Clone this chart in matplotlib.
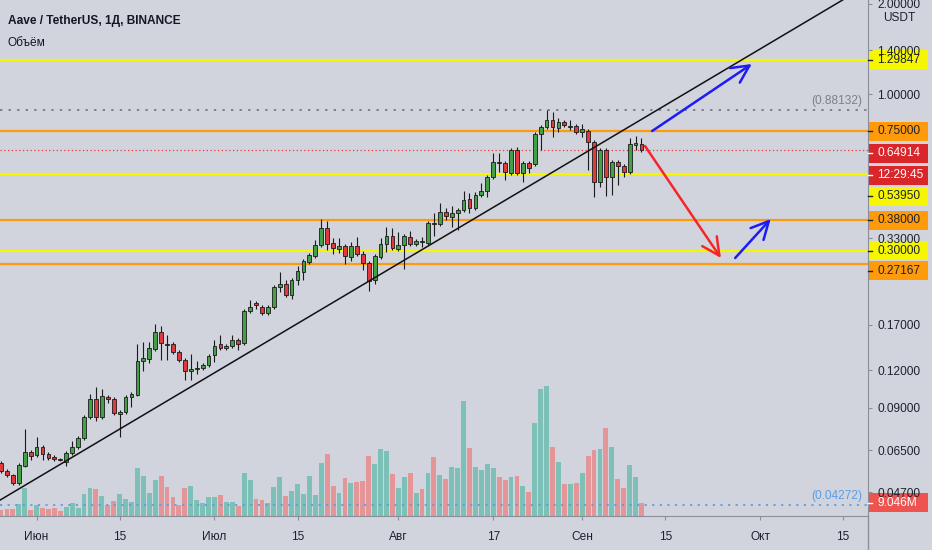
import numpy as np
import matplotlib.pyplot as plt
from matplotlib.patches import Rectangle
from matplotlib.lines import Line2D
from matplotlib.ticker import FixedLocator, NullLocator, FuncFormatter

# ---- data (AAVE/USDT daily, 26 May .. 11 Sep) ----
days = np.arange(-6, 103)  # day number counted from 1 June, one candle per day

open_ = [0.05889, 0.05538, 0.05371, 0.05050, 0.05755, 0.06407, 0.06261, 0.06658, 0.06309, 0.06166,
         0.06072, 0.05934, 0.06358, 0.06658, 0.07134, 0.08381, 0.09624, 0.08381, 0.09773, 0.09624,
         0.08577, 0.08709, 0.09773, 0.09924, 0.1288, 0.1308, 0.1413, 0.1610, 0.1468, 0.1468,
         0.1381, 0.1298, 0.1193, 0.1212, 0.1221, 0.1249, 0.1349, 0.1468, 0.1423, 0.1446,
         0.1514, 0.1479, 0.1891, 0.2011, 0.1950, 0.1862, 0.1950, 0.2273, 0.2326, 0.2138,
         0.2399, 0.2551, 0.2754, 0.2884, 0.3139, 0.3576, 0.3187, 0.3044, 0.3114, 0.2862,
         0.3114, 0.2929, 0.2733, 0.2399, 0.2862, 0.3163, 0.3363, 0.3044, 0.3139, 0.3337,
         0.3163, 0.3236, 0.3187, 0.3715, 0.3687, 0.4043, 0.3891, 0.4012, 0.4106, 0.4467,
         0.4169, 0.4606, 0.4750, 0.5289, 0.5934, 0.5889, 0.5454, 0.6506, 0.5454, 0.5889,
         0.5844, 0.7357, 0.7761, 0.8189, 0.7701, 0.8064, 0.7790, 0.7820, 0.7470, 0.7528,
         0.6918, 0.5089, 0.6506, 0.5289, 0.5934, 0.5754, 0.5496, 0.6761, 0.6813]
high = [0.05980, 0.05624, 0.05412, 0.05889, 0.07643, 0.06506, 0.07189, 0.06761, 0.06407, 0.06261,
        0.06118, 0.06456, 0.06971, 0.07245, 0.08511, 0.1000, 0.1055, 0.1039, 0.09924, 0.09773,
        0.08844, 0.09924, 0.1016, 0.1468, 0.1491, 0.1491, 0.1711, 0.1685, 0.1573, 0.1491,
        0.1402, 0.1318, 0.1359, 0.1288, 0.1269, 0.1359, 0.1514, 0.1573, 0.1468, 0.1573,
        0.1537, 0.1920, 0.2058, 0.2042, 0.1980, 0.1980, 0.2309, 0.2551, 0.2399, 0.2436,
        0.2671, 0.2818, 0.2951, 0.3261, 0.3832, 0.3773, 0.3312, 0.3312, 0.3163, 0.3212,
        0.3337, 0.2997, 0.2776, 0.2929, 0.3312, 0.3603, 0.3576, 0.3468, 0.3415, 0.3494,
        0.3286, 0.3337, 0.3773, 0.4012, 0.4332, 0.4169, 0.4234, 0.4169, 0.4750, 0.4677,
        0.4713, 0.5050, 0.5371, 0.6358, 0.6358, 0.5980, 0.6607, 0.6658, 0.5980, 0.5980,
        0.7470, 0.7881, 0.88132, 0.8708, 0.8316, 0.8189, 0.8189, 0.7941, 0.7941, 0.7642,
        0.7025, 0.6607, 0.6607, 0.6026, 0.6026, 0.5844, 0.7134, 0.7244, 0.7134]
low = [0.05454, 0.05289, 0.04974, 0.04974, 0.05711, 0.06026, 0.06166, 0.06026, 0.06026, 0.05980,
       0.05980, 0.05755, 0.06261, 0.06556, 0.07025, 0.08254, 0.08127, 0.08254, 0.09333, 0.08511,
       0.07189, 0.08577, 0.09050, 0.09848, 0.1193, 0.1269, 0.1391, 0.1298, 0.1298, 0.1359,
       0.1279, 0.1113, 0.1113, 0.1166, 0.1202, 0.1230, 0.1279, 0.1402, 0.1402, 0.1423,
       0.1402, 0.1457, 0.1862, 0.1920, 0.1834, 0.1834, 0.1920, 0.2188, 0.2105, 0.2073,
       0.2309, 0.2399, 0.2712, 0.2840, 0.3091, 0.3020, 0.2929, 0.2951, 0.2712, 0.2776,
       0.2884, 0.2590, 0.2205, 0.2326, 0.2818, 0.2974, 0.3020, 0.2997, 0.2610, 0.3114,
       0.3114, 0.3091, 0.3139, 0.3363, 0.3631, 0.3802, 0.3603, 0.3521, 0.4043, 0.4012,
       0.4106, 0.4536, 0.4536, 0.5208, 0.5496, 0.5168, 0.5371, 0.5371, 0.5089, 0.5454,
       0.5754, 0.6506, 0.7642, 0.7189, 0.7470, 0.7761, 0.7586, 0.7357, 0.7189, 0.5581,
       0.4536, 0.4898, 0.4571, 0.4606, 0.4974, 0.5289, 0.5412, 0.6506, 0.6407]
close = [0.05538, 0.05371, 0.05050, 0.05799, 0.06407, 0.06213, 0.06658, 0.06309, 0.06118, 0.06072,
         0.06026, 0.06358, 0.06658, 0.07134, 0.08381, 0.09624, 0.08381, 0.09848, 0.09624, 0.08643,
         0.08709, 0.09773, 0.1000, 0.1288, 0.1318, 0.1423, 0.1610, 0.1479, 0.1457, 0.1381,
         0.1298, 0.1193, 0.1212, 0.1221, 0.1249, 0.1339, 0.1446, 0.1423, 0.1446, 0.1514,
         0.1468, 0.1891, 0.1950, 0.1980, 0.1862, 0.1950, 0.2273, 0.2326, 0.2138, 0.2399,
         0.2571, 0.2776, 0.2906, 0.3139, 0.3576, 0.3163, 0.3067, 0.3114, 0.2884, 0.3114,
         0.2929, 0.2733, 0.2380, 0.2884, 0.3163, 0.3363, 0.3067, 0.3139, 0.3363, 0.3163,
         0.3236, 0.3212, 0.3715, 0.3687, 0.4043, 0.3921, 0.4012, 0.4106, 0.4433, 0.4169,
         0.4606, 0.4750, 0.5289, 0.5934, 0.5889, 0.5496, 0.6506, 0.5454, 0.5889, 0.5667,
         0.7357, 0.7761, 0.8189, 0.7761, 0.8064, 0.7881, 0.7820, 0.7470, 0.7642, 0.6918,
         0.5089, 0.6506, 0.5289, 0.5934, 0.5754, 0.5496, 0.6813, 0.6865, 0.64914]
volume_m = [3.9, 4.4, 4.4, 8.1, 19.2, 3.9, 7.4, 5.1, 4.4, 5.1,
            3.4, 5.8, 8.6, 5.1, 15.2, 19.7, 18.5, 14.0, 7.4, 10.3,
            15.2, 11.7, 9.8, 33.4, 27.9, 15.7, 25.1, 27.9, 20.4, 12.9,
            7.4, 19.7, 20.9, 11.0, 8.6, 12.9, 13.3, 14.5, 9.3, 9.3,
            6.7, 30.3, 25.1, 11.5, 11.0, 8.6, 19.9, 27.0, 13.8, 17.5,
            22.3, 15.2, 27.9, 14.5, 37.3, 43.5, 20.9, 15.7, 26.3, 23.2,
            23.9, 24.6, 42.1, 36.4, 46.8, 45.6, 29.3, 19.2, 27.0, 30.3,
            15.7, 18.5, 30.3, 41.1, 28.4, 26.0, 34.1, 33.6, 80.7, 47.5,
            34.1, 32.0, 36.4, 33.6, 27.0, 25.1, 27.0, 27.9, 20.9, 16.8,
            65.2, 89.4, 91.5, 48.2, 38.0, 22.3, 22.3, 23.2, 30.3, 42.1,
            46.3, 47.0, 62.1, 48.2, 25.6, 19.7, 35.7, 27.4, 9.046]

tick_days = [0, 14, 30, 44, 61, 77, 92, 106, 122, 136]
tick_labels = ["Июн", "15", "Июл", "15", "Авг", "17", "Сен", "15", "Окт", "15"]
price_ticks = [2.0, 1.4, 1.0, 0.33, 0.17, 0.12, 0.09, 0.065, 0.047]

yellow_levels = [1.29847, 0.5395, 0.30]
orange_levels = [0.75, 0.38, 0.27167]
last_price = 0.64914
range_high = 0.88132
range_low = 0.04272
last_volume = 9.046

# trend line through two points (day, price)
trend_pts = [(-6, 0.0445), (102, 0.823)]
# drawn arrows: (start day, start price, end day, end price, colour)
arrows = [(103.8, 0.7527, 120.6, 1.259, "#1c1cf5"),
          (102.6, 0.6709, 115.4, 0.2840, "#f5262b"),
          (117.8, 0.2840, 123.8, 0.3831, "#1c1cf5")]

# ---- style ----
BG = "#d1d4dc"
TXT = "#1e222d"
AXC = "#8c8f98"
UP, DOWN = "#43a047", "#e0393e"
VUP, VDOWN = "#7cc0b8", "#e39597"
YEL, ORA = "#f6f600", "#ff9a0a"
FS = 8.6
plt.rcParams["font.family"] = ["Liberation Sans", "DejaVu Sans"]

W, H = 932, 550
fig = plt.figure(figsize=(W / 100, H / 100), dpi=100, facecolor=BG)
ax = fig.add_axes([0, 34.5 / H, 868 / W, 515.5 / H])
axv = ax.twinx()
ax.set_zorder(axv.get_zorder() + 1)
ax.patch.set_visible(False)
axv.patch.set_visible(False)

ax.set_yscale("log")
ax.set_xlim(-6.17, 140.2)
ax.set_ylim(0.03936, 2.0576)
axv.set_ylim(0, 364.3)
axv.set_yticks([])
for s in axv.spines.values():
    s.set_visible(False)

o = np.array(open_)
c = np.array(close)
up = c >= o

# volume
axv.bar(days, volume_m, width=0.82, color=np.where(up, VUP, VDOWN), linewidth=0)

# levels
for lv in yellow_levels:
    ax.axhline(lv, color=YEL, lw=1.6, zorder=2)
for lv in orange_levels:
    ax.axhline(lv, color=ORA, lw=1.6, zorder=2)
ax.axhline(range_high, color="#7d8089", lw=1.4, ls=(0, (1.2, 3.2)), zorder=2)
ax.axhline(last_price, color="#e53935", lw=0.9, ls=(0, (1, 2)), zorder=2)
ax.axhline(range_low, color="#5a9ee8", lw=1.3, ls=(0, (1.2, 3)), zorder=2)

# candles
ax.vlines(days, low, high, color="#1b1b1b", lw=0.8, zorder=3)
ax.bar(days, np.abs(c - o), bottom=np.minimum(o, c), width=0.64,
       color=np.where(up, UP, DOWN), edgecolor="#1b1b1b", linewidth=0.6, zorder=4)

# trend line and arrows
ax.axline(trend_pts[0], trend_pts[1], color="#111111", lw=1.1, zorder=5)
for x0, y0, x1, y1, col in arrows:
    ax.annotate("", xy=(x1, y1), xytext=(x0, y0), annotation_clip=False,
                arrowprops=dict(arrowstyle="->,head_length=0.9,head_width=0.45",
                                color=col, lw=1.8, shrinkA=0, shrinkB=0, mutation_scale=14),
                zorder=6)

# axes cosmetics
for side in ["top", "left"]:
    ax.spines[side].set_visible(False)
for side in ["right", "bottom"]:
    ax.spines[side].set_color(AXC)
ax.yaxis.tick_right()
ax.yaxis.set_major_locator(FixedLocator(price_ticks))
ax.yaxis.set_minor_locator(NullLocator())
ax.yaxis.set_major_formatter(FuncFormatter(lambda v, _: f"{v:.5f}"))
ax.set_xticks(tick_days)
ax.set_xticklabels(tick_labels)
ax.tick_params(axis="y", direction="out", length=3, color=AXC, labelcolor=TXT,
               labelsize=FS, pad=3.5)
ax.tick_params(axis="x", direction="out", length=3, color=AXC, labelcolor=TXT,
               labelsize=FS, pad=8)
fig.add_artist(Line2D([868 / W, 868 / W], [0, 34.5 / H], color=AXC, lw=1))

# header
fig.text(8 / W, 1 - 21 / H, "Aave / TetherUS, 1Д, BINANCE", fontsize=8.6,
         fontweight="bold", color="#131722", va="center")
fig.text(8 / W, 1 - 43 / H, "Объём", fontsize=8.6, color="#131722", va="center")
fig.text(899 / W, 1 - 18 / H, "USDT", fontsize=FS, color=TXT, ha="center", va="center")


def tag(axis, value, label, fc, tc, shift=0.0):
    y = axis.transData.transform((0, value))[1] - shift
    fig.add_artist(Rectangle((868 / W, (y - 9.5) / H), 60 / W, 19 / H,
                             transform=fig.transFigure, fc=fc, ec="none"))
    fig.add_artist(Line2D([868 / W, 872 / W], [y / H, y / H], color=tc, lw=1))
    fig.text(877 / W, y / H, label, color=tc, fontsize=FS, va="center", ha="left")


tag(ax, 1.29847, "1.29847", YEL, TXT)
tag(ax, 0.75, "0.75000", ORA, TXT)
tag(ax, last_price, "0.64914", "#d8262b", "white", 2.7)
tag(ax, last_price, "12:29:45", "#d8262b", "white", 24.7)
tag(ax, 0.5395, "0.53950", YEL, TXT, 22)
tag(ax, 0.38, "0.38000", ORA, TXT)
tag(ax, 0.30, "0.30000", YEL, TXT)
tag(ax, 0.27167, "0.27167", ORA, TXT, 7)
tag(axv, last_volume, "9.046M", "#ef5350", "white")

yh = ax.transData.transform((0, range_high))[1] + 9
fig.text(862 / W, yh / H, "(0.88132)", color="#7d8089", fontsize=FS, ha="right", va="center")
yl = ax.transData.transform((0, range_low))[1] + 9
fig.text(862 / W, yl / H, "(0.04272)", color="#5a9ee8", fontsize=FS, ha="right", va="center")

fig.savefig("out.png", dpi=100, facecolor=BG)
